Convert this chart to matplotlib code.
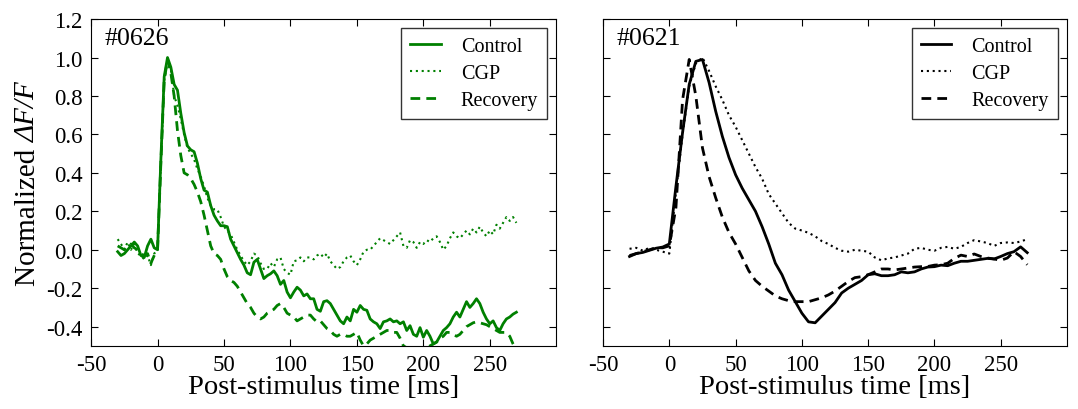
import numpy as np
import matplotlib
matplotlib.use('Agg')
import matplotlib.pyplot as plt

plt.rcParams['font.family'] = ['Liberation Serif', 'DejaVu Serif']

# ---- data (normalized dF/F) ----
# left panel (#0626), sampled every 2.5 ms from -30 to 270 ms
t_0626 = np.arange(-30, 270.1, 2.5)
control_0626 = [
    -0.01, -0.03, -0.02, 0.0, 0.02, 0.04, 0.02, -0.03, -0.04, 0.02, 0.055, 0.01,
    0.0, 0.47, 0.9, 1.0, 0.95, 0.86, 0.83, 0.71, 0.61, 0.54,
    0.52, 0.51, 0.45, 0.37, 0.31, 0.30, 0.23, 0.18, 0.15, 0.125,
    0.125, 0.12, 0.055, 0.02, -0.015, -0.05, -0.08, -0.12, -0.13, -0.065,
    -0.05, -0.10, -0.15, -0.135, -0.125, -0.11, -0.135, -0.18, -0.16, -0.22,
    -0.25, -0.22, -0.195, -0.21, -0.24, -0.23, -0.255, -0.255, -0.31, -0.32,
    -0.27, -0.265, -0.28, -0.31, -0.34, -0.37, -0.385, -0.35, -0.37, -0.31,
    -0.325, -0.29, -0.31, -0.315, -0.36, -0.375, -0.385, -0.41, -0.375, -0.37,
    -0.36, -0.375, -0.37, -0.385, -0.375, -0.42, -0.395, -0.44, -0.45, -0.405,
    -0.455, -0.42, -0.45, -0.49, -0.48, -0.45, -0.42, -0.405, -0.385, -0.35,
    -0.325, -0.35, -0.31, -0.27, -0.30, -0.28, -0.255, -0.28, -0.325, -0.36,
    -0.385, -0.37, -0.405, -0.42, -0.385, -0.36, -0.35, -0.335, -0.325,
]
cgp_0626 = [
    0.055, 0.03, 0.0, 0.04, 0.0, 0.03, -0.02, -0.03, -0.05, -0.03, -0.08, -0.02,
    0.0, 0.45, 0.88, 0.98, 0.94, 0.8, 0.75, 0.68, 0.60, 0.53,
    0.50, 0.47, 0.42, 0.38, 0.33, 0.27, 0.23, 0.21, 0.21, 0.17,
    0.12, 0.10, 0.08, 0.04, 0.0, -0.03, -0.06, -0.08, -0.06, -0.02,
    -0.03, -0.07, -0.10, -0.10, -0.07, -0.09, -0.05, -0.04, -0.10, -0.12,
    -0.13, -0.06, -0.055, -0.04, -0.06, -0.04, -0.04, -0.05, -0.03, -0.02,
    -0.04, -0.02, -0.06, -0.08, -0.10, -0.09, -0.06, -0.04, -0.03, -0.06,
    -0.08, -0.05, -0.01, 0.0, 0.0, 0.02, 0.04, 0.06, 0.05, 0.04,
    0.03, 0.05, 0.07, 0.09, 0.02, 0.01, 0.05, 0.04, 0.01, 0.04,
    0.03, 0.05, 0.04, 0.06, 0.07, 0.04, 0.0, 0.02, 0.06, 0.09,
    0.07, 0.06, 0.08, 0.10, 0.08, 0.11, 0.09, 0.12, 0.09, 0.07,
    0.10, 0.08, 0.13, 0.11, 0.14, 0.17, 0.15, 0.17, 0.14,
]
recovery_0626 = [
    0.02, 0.01, 0.0, 0.02, 0.03, 0.01, 0.0, -0.02, -0.03, -0.02, -0.07, -0.03,
    0.0, 0.45, 0.88, 0.99, 0.92, 0.80, 0.62, 0.49, 0.40, 0.39,
    0.37, 0.34, 0.30, 0.25, 0.18, 0.10, 0.02, -0.02, -0.03, -0.05,
    -0.10, -0.14, -0.16, -0.17, -0.19, -0.22, -0.25, -0.28, -0.30, -0.33,
    -0.35, -0.36, -0.35, -0.33, -0.32, -0.31, -0.29, -0.28, -0.30, -0.33,
    -0.34, -0.35, -0.37, -0.36, -0.35, -0.34, -0.34, -0.36, -0.375, -0.37,
    -0.39, -0.41, -0.42, -0.44, -0.45, -0.44, -0.44, -0.45, -0.45, -0.44,
    -0.43, -0.47, -0.50, -0.49, -0.47, -0.46, -0.45, -0.44, -0.43, -0.42,
    -0.42, -0.43, -0.43, -0.46, -0.50, -0.51, -0.52, -0.51, -0.52, -0.51,
    -0.52, -0.51, -0.50, -0.49, -0.48, -0.46, -0.45, -0.43, -0.43, -0.44,
    -0.45, -0.44, -0.42, -0.40, -0.39, -0.38, -0.375, -0.38, -0.385, -0.39,
    -0.40, -0.41, -0.42, -0.43, -0.43, -0.43, -0.45, -0.49, -0.52,
]

# right panel (#0621), sampled every 5 ms from -30 to 270 ms
t_0621 = np.arange(-30, 270.1, 5)
control_0621 = [
    -0.035, -0.02, -0.014, -0.003, 0.008, 0.014, 0.03, 0.33, 0.61, 0.86,
    0.98, 0.99, 0.87, 0.72, 0.59, 0.48, 0.39, 0.32, 0.26, 0.20,
    0.12, 0.03, -0.07, -0.13, -0.21, -0.27, -0.33, -0.375, -0.38, -0.345,
    -0.31, -0.275, -0.225, -0.20, -0.18, -0.16, -0.13, -0.125, -0.135, -0.135,
    -0.13, -0.115, -0.12, -0.115, -0.10, -0.09, -0.088, -0.08, -0.083, -0.07,
    -0.06, -0.06, -0.055, -0.05, -0.045, -0.048, -0.035, -0.02, -0.01, 0.015,
    -0.015,
]
cgp_0621 = [
    0.005, 0.01, -0.005, 0.01, 0.0, -0.01, -0.02, 0.30, 0.60, 0.85,
    0.97, 1.0, 0.93, 0.85, 0.78, 0.70, 0.64, 0.57, 0.50, 0.43,
    0.37, 0.29, 0.24, 0.19, 0.14, 0.11, 0.10, 0.088, 0.07, 0.045,
    0.03, 0.01, -0.005, -0.01, 0.0, -0.005, -0.01, -0.04, -0.055, -0.045,
    -0.04, -0.03, -0.02, 0.005, 0.01, 0.0, -0.005, 0.01, 0.015, 0.005,
    0.015, 0.035, 0.05, 0.043, 0.035, 0.02, 0.035, 0.038, 0.035, 0.043,
    0.055,
]
recovery_0621 = [
    -0.03, -0.02, -0.01, 0.0, 0.01, 0.01, 0.02, 0.22, 0.78, 0.99,
    0.80, 0.53, 0.38, 0.27, 0.17, 0.09, 0.03, -0.04, -0.11, -0.16,
    -0.19, -0.215, -0.24, -0.255, -0.265, -0.27, -0.27, -0.27, -0.26, -0.25,
    -0.235, -0.215, -0.19, -0.165, -0.145, -0.14, -0.13, -0.115, -0.10, -0.10,
    -0.105, -0.10, -0.095, -0.09, -0.088, -0.087, -0.08, -0.078, -0.07, -0.045,
    -0.028, -0.035, -0.022, -0.035, -0.043, -0.048, -0.055, -0.043, -0.01, -0.035,
    -0.078,
]

x_ticks = [-50, 0, 50, 100, 150, 200, 250]
y_ticks = [-0.4, -0.2, 0.0, 0.2, 0.4, 0.6, 0.8, 1.0, 1.2]
x_labels = ['-50', '0', '50', '100', '150', '200', '250']
y_labels = ['-0.4', '-0.2', '0.0', '0.2', '0.4', '0.6', '0.8', '1.0', '1.2']

fig = plt.figure(figsize=(10.78, 4.10), dpi=100)
ax1 = fig.add_axes([0.0845, 0.154, 0.4315, 0.797])
ax2 = fig.add_axes([0.5594, 0.154, 0.4304, 0.797])

panels = [
    (ax1, '#0626', 'green', t_0626, control_0626, cgp_0626, recovery_0626),
    (ax2, '#0621', 'black', t_0621, control_0621, cgp_0621, recovery_0621),
]

for ax, name, col, t, ctrl, cgp, rec in panels:
    ax.plot(t, ctrl, color=col, lw=2.0, label='Control')
    ax.plot(t, cgp, color=col, lw=1.5, ls=(0, (1, 1.8)), label='CGP')
    ax.plot(t, rec, color=col, lw=2.0, ls=(0, (3.5, 2.2)), label='Recovery')

    ax.set_xlim(-50, 300)
    ax.set_ylim(-0.5, 1.2)
    ax.set_xticks(x_ticks)
    ax.set_xticklabels(x_labels)
    ax.set_yticks(y_ticks)
    ax.tick_params(direction='in', top=True, right=True, length=5,
                   labelsize=16.5, pad=6)
    ax.set_xlabel('Post-stimulus time [ms]', fontsize=20.5, labelpad=-1)
    ax.text(0.028, 0.975, name, transform=ax.transAxes, fontsize=18.5,
            ha='left', va='top')
    leg = ax.legend(loc='upper right', fontsize=14.5, frameon=True,
                    fancybox=False, handlelength=1.5, handletextpad=1.0,
                    borderpad=0.45, labelspacing=0.38, borderaxespad=0.45)
    leg.get_frame().set_edgecolor('black')
    leg.get_frame().set_linewidth(1.0)

ax1.set_yticklabels(y_labels)
ax2.set_yticklabels([])

# y label: upright "Normalized " followed by italic "ΔF/F", centred on the axes
ylab_x, ylab_cy = 0.026, 0.552
renderer = fig.canvas.get_renderer()
part1 = fig.text(ylab_x, 0, 'Normalized ', rotation=90, fontsize=21,
                 ha='center', va='bottom')
part2 = fig.text(ylab_x, 0, 'ΔF/F', rotation=90, fontsize=21,
                 style='italic', ha='center', va='bottom')
h1 = part1.get_window_extent(renderer).height / fig.bbox.height
h2 = part2.get_window_extent(renderer).height / fig.bbox.height
y0 = ylab_cy - (h1 + h2) / 2
part1.set_y(y0)
part2.set_y(y0 + h1)

fig.savefig('out.png', dpi=100)
